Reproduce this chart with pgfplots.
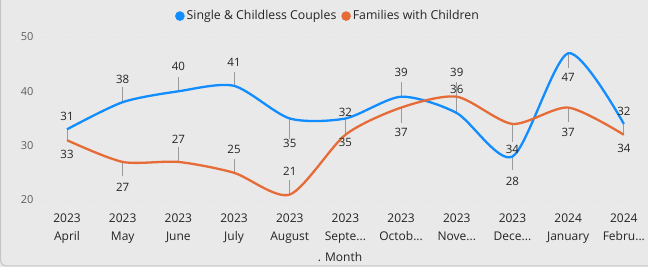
\documentclass[border=0pt]{standalone}
\usepackage{pgfplots}
\pgfplotsset{compat=1.18}
\usepackage{fontspec}
\setmainfont{Open Sans}
\newcommand\dd{.{}.{}.}
\definecolor{bg}{HTML}{E9E9E9}
\definecolor{frame}{HTML}{C6C6C6}
\definecolor{cblue}{HTML}{118DFF}
\definecolor{corange}{HTML}{E66C37}
\definecolor{txt}{HTML}{252423}
\definecolor{ytxt}{HTML}{605E5C}
\definecolor{lead}{HTML}{9A9A9A}
\begin{document}
\begin{tikzpicture}[x=1pt,y=1pt]
\useasboundingbox (0,0) rectangle (648,267);
\fill[bg] (0,0) rectangle (648,267);
\draw[frame, line width=1pt, rounded corners=6pt] (0.5,1) rectangle (700,320);
\begin{axis}[
  at={(40pt,61.6pt)}, anchor=south west,
  scale only axis, width=600pt, height=179.3pt,
  xmin=-0.485, xmax=10.29, ymin=19, ymax=52,
  axis line style={draw=none},
  clip=false,
  ytick={20,30,40,50},
  ymajorgrids, grid style={dotted, draw=black!10, line width=0.6pt},
  xtick={0,1,2,3,4,5,6,7,8,9,10},
  xticklabels={{2023\\April},{2023\\May},{2023\\June},{2023\\July},{2023\\August},{2023\\Septe\dd},{2023\\Octob\dd},{2023\\Nove\dd},{2023\\Dece\dd},{2024\\January},{2024\\Febru\dd}},
  major tick length=0pt,
  /pgf/number format/assume math mode=true,
  yticklabel style={font=\fontsize{11}{12}\selectfont, text=ytxt, anchor=east, xshift=-3pt},
  xticklabel style={font=\fontsize{12}{18}\selectfont, text=txt, align=center, anchor=north, yshift=-4.5pt},
  xlabel={. Month},
  xlabel style={font=\fontsize{12}{14}\selectfont, text=txt, at={(0.5,0)}, anchor=north, yshift=-43pt},
  legend style={at={(0.48,1.056)}, anchor=center, draw=none, fill=none, legend columns=2,
    font=\fontsize{12.3}{14}\selectfont, text=txt,
    /tikz/every even column/.append style={column sep=3pt},
    legend cell align=left, inner sep=0pt},
  legend image code/.code={\fill (0.2cm,0) circle (3.6pt);},
]
% leader lines
\draw[lead, line width=0.8pt] (axis cs:0,33) -- (axis cs:0,31);
\draw[lead, line width=0.8pt] (axis cs:1,38) -- (axis cs:1,40.8);
\draw[lead, line width=0.8pt] (axis cs:1,27) -- (axis cs:1,24.4);
\draw[lead, line width=0.8pt] (axis cs:2,40) -- (axis cs:2,42.6);
\draw[lead, line width=0.8pt] (axis cs:2,27) -- (axis cs:2,29.7);
\draw[lead, line width=0.8pt] (axis cs:3,41) -- (axis cs:3,43.5);
\draw[lead, line width=0.8pt] (axis cs:3,25) -- (axis cs:3,27.6);
\draw[lead, line width=0.8pt] (axis cs:4,35) -- (axis cs:4,31.3);
\draw[lead, line width=0.8pt] (axis cs:4,21) -- (axis cs:4,23.7);
\draw[lead, line width=0.8pt] (axis cs:5,35) -- (axis cs:5,32);
\draw[lead, line width=0.8pt] (axis cs:6,39) -- (axis cs:6,41.7);
\draw[lead, line width=0.8pt] (axis cs:6,37) -- (axis cs:6,34.1);
\draw[lead, line width=0.8pt] (axis cs:7,36) -- (axis cs:7,41.7);
\draw[lead, line width=0.8pt] (axis cs:8,34) -- (axis cs:8,30.7);
\draw[lead, line width=0.8pt] (axis cs:8,28) -- (axis cs:8,25.5);
\draw[lead, line width=0.8pt] (axis cs:9,47) -- (axis cs:9,44.2);
\draw[lead, line width=0.8pt] (axis cs:9,37) -- (axis cs:9,34.4);
\draw[lead, line width=0.8pt] (axis cs:10,34) -- (axis cs:10,32);
% series
\addplot[cblue, line width=2.3pt, smooth, tension=0.45] coordinates {
(0,33) (1,38) (2,40) (3,41) (4,35) (5,35) (6,39) (7,36) (8,28) (9,47) (10,34)};
\addlegendentry{Single \& Childless Couples}
\addplot[corange, line width=2.3pt, smooth, tension=0.45] coordinates {
(0,31) (1,27) (2,27) (3,25) (4,21) (5,32) (6,37) (7,39) (8,34) (9,37) (10,32)};
\addlegendentry{Families with Children}
% data labels
\tikzset{lbl/.style={font=\fontsize{11.5}{13}\selectfont, text=txt, inner sep=0pt}}
\node[lbl] at (axis cs:0,35.3) {31};
\node[lbl] at (axis cs:0,28.4) {33};
\node[lbl] at (axis cs:1,42.2) {38};
\node[lbl] at (axis cs:1,22.4) {27};
\node[lbl] at (axis cs:2,44.5) {40};
\node[lbl] at (axis cs:2,31.2) {27};
\node[lbl] at (axis cs:3,45.3) {41};
\node[lbl] at (axis cs:3,29.3) {25};
\node[lbl] at (axis cs:4,30.5) {35};
\node[lbl] at (axis cs:4,25.2) {21};
\node[lbl] at (axis cs:5,36.2) {32};
\node[lbl] at (axis cs:5,30.6) {35};
\node[lbl] at (axis cs:6,43.4) {39};
\node[lbl] at (axis cs:6,32.5) {37};
\node[lbl] at (axis cs:7,43.4) {39};
\node[lbl] at (axis cs:7,40.3) {36};
\node[lbl] at (axis cs:8,29.3) {34};
\node[lbl] at (axis cs:8,23.5) {28};
\node[lbl] at (axis cs:9,42.5) {47};
\node[lbl] at (axis cs:9,32.5) {37};
\node[lbl] at (axis cs:10,36.3) {32};
\node[lbl] at (axis cs:10,29.5) {34};
\end{axis}
\end{tikzpicture}
\end{document}
